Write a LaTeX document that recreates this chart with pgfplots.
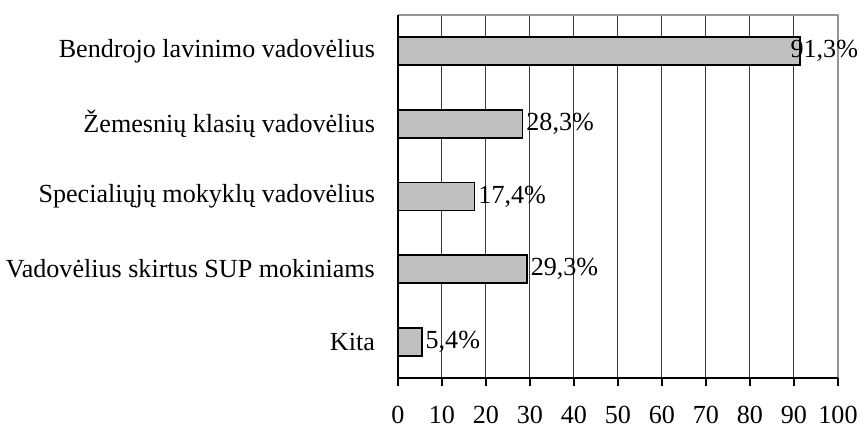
\documentclass[border=0pt]{standalone}
\usepackage{fontspec}
\setmainfont{Liberation Serif}
\usepackage{pgfplots}
\pgfplotsset{compat=1.18}
\usepackage{pgfplotstable}
\definecolor{barfill}{RGB}{192,192,192}
\definecolor{gridc}{RGB}{60,60,60}
\definecolor{framec}{RGB}{150,150,150}
\pgfplotstableread{
x y s
91.3 5 -6.5
28.3 4 0
17.4 3 0
29.3 2 0
5.4 1 0
}\mydata
\begin{document}
\fontsize{13.1}{15}\selectfont
\begin{tikzpicture}
\begin{axis}[
  name=ax,
  scale only axis,
  width=220bp, height=181.5bp,
  xmin=0, xmax=100, ymin=0.5, ymax=5.5,
  xtick={0,10,...,100},
  xmajorgrids, grid style={gridc, line width=0.5bp},
  ytick={1,2,3,4,5},
  yticklabels={Kita,Vadovėlius skirtus SUP mokiniams,Specialiųjų mokyklų vadovėlius,Žemesnių klasių vadovėlius,Bendrojo lavinimo vadovėlius},
  major y tick style={draw=none},
  extra y ticks={0.5,1.5,2.5,3.5,4.5,5.5},
  extra y tick labels={},
  extra y tick style={major tick length=4bp, tick align=outside, tick style={black, line width=0.7bp}, grid=none},
  x tick style={black, line width=0.7bp},
  major tick length=4bp,
  tick align=outside,
  xtick pos=bottom, ytick pos=left,
  axis line style={draw=none},
  tick label style={font=\fontsize{13.1}{15}\selectfont},
  yticklabel style={xshift=-3bp},
  xticklabel style={yshift=-5.5bp},
  /pgf/number format/assume math mode=true,
  clip=false,
  xbar, bar width=14bp,
  nodes near coords={\pgfmathprintnumber[fixed,fixed zerofill,precision=1,use comma]{\pgfplotspointmeta}\%},
  nodes near coords align=horizontal,
  visualization depends on={\thisrow{s} \as \myshift},
  every node near coord/.append style={anchor=west, xshift=\myshift bp, inner sep=1.5bp, font=\fontsize{13.1}{15}\selectfont, black},
]
\draw[framec, line width=0.8bp] (rel axis cs:0,1) -- (rel axis cs:1,1) -- (rel axis cs:1,0);
\addplot[fill=barfill, draw=black, line width=0.9bp] table[x=x, y=y] {\mydata};
\draw[black, line width=1bp] (rel axis cs:0,1) -- (rel axis cs:0,0) -- (rel axis cs:1,0);
\coordinate (bl) at (rel axis cs:0,0);
\coordinate (tr) at (rel axis cs:1,1);
\end{axis}
\pgfresetboundingbox
\useasboundingbox ([xshift=-199bp,yshift=-25.5bp]bl) rectangle ([xshift=10.5bp,yshift=7.5bp]tr);
\end{tikzpicture}
\end{document}
